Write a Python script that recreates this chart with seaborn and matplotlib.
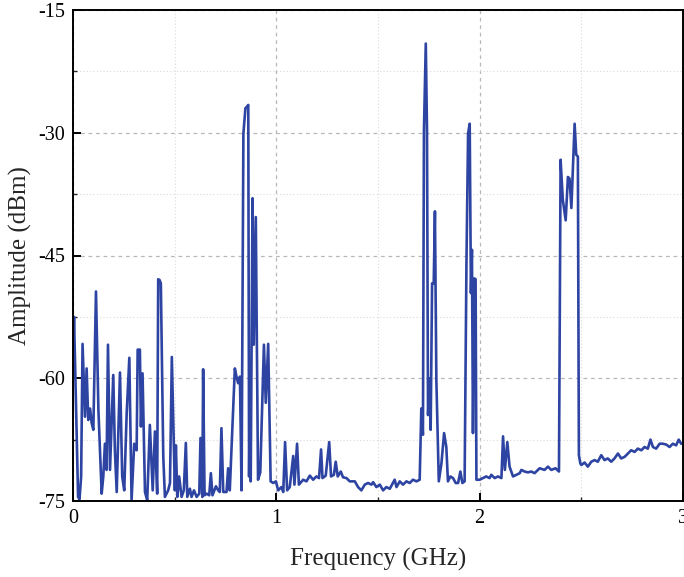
import numpy as np
import pandas as pd
import matplotlib
matplotlib.use("Agg")
import matplotlib.pyplot as plt
from matplotlib.ticker import MultipleLocator
import seaborn as sns

# spectrum, split by band
freq_a = [0.000, 0.005, 0.012, 0.025, 0.032, 0.040, 0.047, 0.059, 0.067, 0.075,
          0.084, 0.092, 0.100, 0.113, 0.125, 0.141, 0.149, 0.157, 0.165, 0.172,
          0.182, 0.198, 0.206, 0.215, 0.231, 0.242, 0.252, 0.264, 0.277, 0.288,
          0.301, 0.313, 0.318, 0.329, 0.334, 0.342, 0.354, 0.365, 0.378, 0.392,
          0.403, 0.414, 0.419, 0.426, 0.432, 0.444, 0.452, 0.468, 0.477, 0.486]
amp_a = [-58.6, -52.5, -60.0, -74.5, -74.8, -72.0, -55.8, -64.7, -58.8, -65.1,
         -63.7, -65.5, -66.3, -49.4, -63.9, -74.1, -72.0, -68.0, -71.2, -55.9,
         -71.2, -59.6, -68.8, -73.9, -59.3, -72.0, -73.7, -64.3, -57.5, -74.9,
         -68.0, -68.8, -56.5, -56.5, -65.9, -59.4, -73.9, -74.9, -65.7, -73.7,
         -66.5, -74.1, -47.9, -48.0, -48.4, -69.6, -74.5, -73.7, -72.8, -57.4]

freq_b = [0.501, 0.506, 0.513, 0.522, 0.534, 0.545, 0.555, 0.562, 0.575, 0.583,
          0.595, 0.608, 0.621, 0.627, 0.636, 0.640, 0.647, 0.657, 0.670, 0.678,
          0.686, 0.703, 0.714, 0.722, 0.730, 0.739, 0.755, 0.763, 0.771, 0.796,
          0.804, 0.812, 0.821, 0.829, 0.838, 0.848, 0.856, 0.862, 0.866, 0.870,
          0.874, 0.883, 0.889, 0.899, 0.910, 0.921, 0.939, 0.948, 0.960, 0.972,
          0.985]
amp_b = [-73.7, -68.2, -74.5, -72.0, -74.5, -73.7, -67.9, -74.5, -73.5, -74.5,
         -73.7, -74.5, -74.1, -67.3, -74.5, -58.9, -74.3, -74.1, -74.3, -71.6,
         -74.3, -73.2, -73.7, -73.9, -66.1, -73.9, -73.9, -71.0, -73.7, -58.8,
         -59.8, -60.6, -59.8, -73.7, -30.1, -27.0, -26.8, -26.6, -72.0, -61.4,
         -72.6, -38.0, -55.9, -40.3, -72.4, -71.5, -55.9, -63.0, -55.8, -72.6,
         -72.8]

freq_c = [0.998, 1.009, 1.025, 1.034, 1.043, 1.053, 1.066, 1.083, 1.089, 1.102,
          1.111, 1.132, 1.148, 1.165, 1.181, 1.197, 1.210, 1.220, 1.227, 1.243,
          1.260, 1.269, 1.283, 1.292, 1.302, 1.317, 1.328, 1.345, 1.361, 1.386,
          1.402, 1.418, 1.435, 1.451, 1.468, 1.476, 1.492, 1.509, 1.525, 1.541,
          1.558, 1.582, 1.591, 1.607, 1.623, 1.640, 1.656, 1.672, 1.689, 1.705]
amp_c = [-72.6, -73.7, -73.3, -73.9, -67.8, -73.7, -73.3, -69.5, -73.0, -68.0,
         -73.0, -72.4, -72.6, -71.9, -72.4, -72.0, -72.2, -68.7, -72.2, -71.9,
         -67.8, -72.0, -71.8, -70.2, -72.0, -71.4, -72.1, -72.2, -72.6, -72.6,
         -73.3, -73.7, -73.0, -72.8, -73.0, -72.7, -73.3, -73.0, -73.7, -73.3,
         -73.5, -72.4, -73.3, -72.6, -73.0, -72.6, -72.8, -72.4, -72.6, -72.4]

freq_d = [1.713, 1.721, 1.726, 1.735, 1.741, 1.746, 1.754, 1.759, 1.766, 1.774,
          1.780, 1.787, 1.799, 1.812, 1.825, 1.836, 1.844, 1.856, 1.869, 1.882,
          1.894, 1.905, 1.915, 1.926, 1.935, 1.943, 1.951, 1.957, 1.962, 1.967,
          1.974, 1.980, 1.984]
amp_d = [-63.7, -66.9, -29.7, -19.1, -29.7, -64.5, -60.0, -66.3, -48.4, -48.4,
         -39.6, -60.2, -72.6, -70.4, -66.7, -68.4, -72.6, -72.0, -72.2, -72.8,
         -72.8, -71.4, -72.8, -72.6, -46.0, -30.1, -28.9, -49.6, -44.3, -66.7,
         -47.8, -47.9, -72.4]

freq_e = [2.000, 2.016, 2.032, 2.049, 2.057, 2.074, 2.090, 2.107, 2.115, 2.124,
          2.136, 2.147, 2.164, 2.180, 2.197, 2.205, 2.221, 2.237, 2.254, 2.270,
          2.295, 2.319, 2.336, 2.352, 2.373, 2.390, 2.398, 2.409, 2.423, 2.434,
          2.442, 2.451, 2.459, 2.467, 2.475, 2.483, 2.488]
amp_e = [-72.4, -72.2, -72.0, -72.2, -71.8, -72.2, -72.0, -72.2, -67.1, -71.2,
         -67.8, -70.8, -72.0, -71.8, -71.6, -71.2, -71.4, -71.5, -71.4, -71.6,
         -71.0, -71.2, -70.8, -71.2, -71.0, -71.4, -33.3, -38.2, -40.7, -35.4,
         -35.6, -39.2, -34.1, -28.9, -32.7, -32.9, -69.4]

freq_f = [2.495, 2.500, 2.516, 2.532, 2.549, 2.565, 2.581, 2.598, 2.614, 2.630,
          2.647, 2.663, 2.680, 2.696, 2.713, 2.729, 2.745, 2.762, 2.778, 2.795,
          2.811, 2.827, 2.840, 2.852, 2.868, 2.885, 2.901, 2.917, 2.934, 2.950,
          2.966, 2.979, 2.991, 3.000]
amp_f = [-70.4, -70.6, -70.3, -70.8, -70.2, -70.0, -70.2, -69.4, -70.0, -69.8,
         -70.2, -69.8, -69.2, -69.8, -69.6, -69.2, -68.8, -69.0, -68.6, -68.8,
         -68.4, -68.6, -67.5, -68.4, -68.6, -68.0, -68.0, -68.1, -68.4, -68.0,
         -68.2, -67.5, -68.0, -68.0]

df = pd.DataFrame({
    "freq": freq_a + freq_b + freq_c + freq_d + freq_e + freq_f,
    "amp": amp_a + amp_b + amp_c + amp_d + amp_e + amp_f,
})

sns.set_theme(style="white")
plt.rcParams["font.family"] = ["Liberation Serif", "DejaVu Serif"]

fig = plt.figure(figsize=(6.84, 5.77), dpi=100)
ax = fig.add_axes([73 / 684, 76 / 577, 610 / 684, 491 / 577])

sns.lineplot(data=df, x="freq", y="amp", ax=ax, color="#2e44a2",
             linewidth=1.9, estimator=None, sort=False)

ax.set_xlim(0, 3)
ax.set_ylim(-75, -15)
ax.xaxis.set_minor_locator(MultipleLocator(0.5))
ax.yaxis.set_minor_locator(MultipleLocator(7.5))
ax.set_xticks([0, 1, 2, 3], ["0", "1", "2", "3"])
ax.set_yticks([-75, -60, -45, -30, -15], ["-75", "-60", "-45", "-30", "-15"])

ax.grid(which="major", color="#b8b8b8", linestyle=(0, (3, 3)), linewidth=0.9)
ax.grid(which="minor", color="#dadada", linestyle=(0, (1, 2)), linewidth=0.8)
ax.set_axisbelow(True)

ax.tick_params(which="major", direction="in", length=6, width=1.4,
               labelsize=14.5, colors="black", pad=6)
ax.tick_params(which="minor", direction="in", length=3, width=1.0)
ax.tick_params(bottom=True, left=True, top=False, right=False, which="both")
for s in ax.spines.values():
    s.set_linewidth(1.4)
    s.set_color("black")

ax.set_xlabel("Frequency (GHz)", fontsize=18, labelpad=14)
ax.set_ylabel("Amplitude (dBm)", fontsize=18, labelpad=4)

fig.savefig("out.png", dpi=100)
